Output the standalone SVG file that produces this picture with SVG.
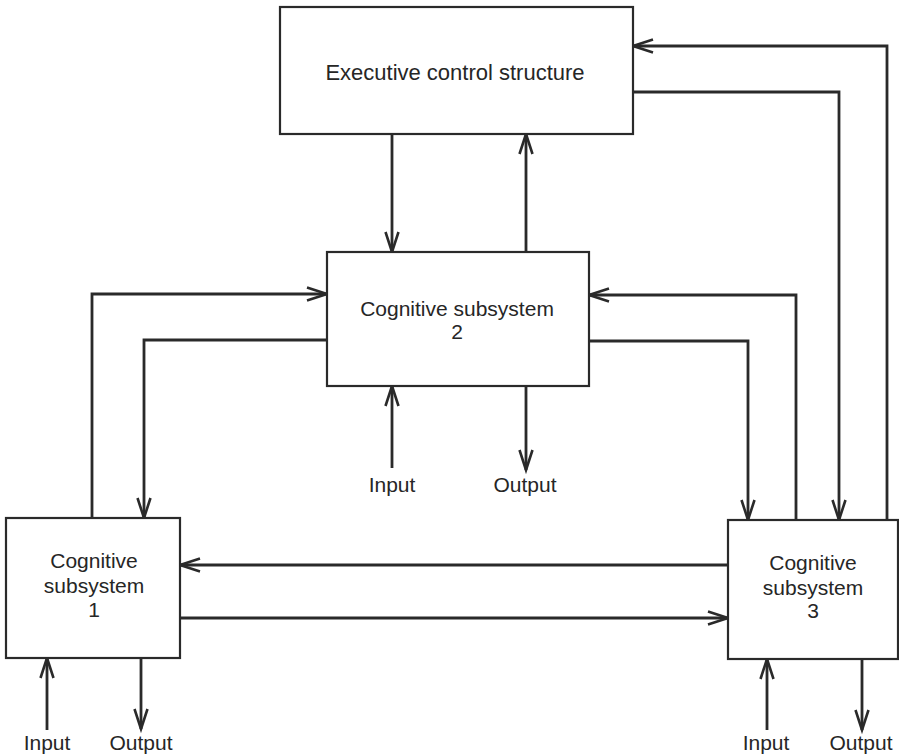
<svg xmlns="http://www.w3.org/2000/svg" width="899" height="756" viewBox="0 0 899 756">
  <defs>
    <marker id="arrow" markerUnits="userSpaceOnUse" markerWidth="30" markerHeight="20" viewBox="-24 -10 28 20" refX="0" refY="0" orient="auto">
      <path d="M-20,-6.5 L0,0 L-20,6.5" fill="none" stroke="#2a2a2a" stroke-width="2.6" stroke-linejoin="miter"/>
    </marker>
  </defs>
  <style>
    .box { fill: #ffffff; stroke: #2a2a2a; stroke-width: 2.2; }
    .label { font-family: "Liberation Sans", Arial, sans-serif; font-size: 21px; fill: #262626; text-anchor: middle; }
    .conn { fill: none; stroke: #2a2a2a; stroke-width: 2.8; marker-end: url(#arrow); }
  </style>
  <rect width="899" height="756" fill="#ffffff"/>

  <g id="connectors">
    <!-- executive <-> subsystem 2 -->
    <path class="conn" d="M392,134 V252"/>
    <path class="conn" d="M526,252 V134"/>
    <!-- executive <-> subsystem 3 -->
    <path class="conn" d="M633,92 H839 V520"/>
    <path class="conn" d="M887,520 V46 H633"/>
    <!-- subsystem 1 <-> subsystem 2 -->
    <path class="conn" d="M92,518 V294 H327"/>
    <path class="conn" d="M327,340 H144 V518"/>
    <!-- subsystem 3 <-> subsystem 2 -->
    <path class="conn" d="M796,520 V295 H589"/>
    <path class="conn" d="M589,341 H748 V520"/>
    <!-- subsystem 1 <-> subsystem 3 -->
    <path class="conn" d="M728,565 H180"/>
    <path class="conn" d="M180,618 H728"/>
    <!-- inputs and outputs -->
    <path class="conn" d="M392,468 V386"/>
    <path class="conn" d="M526,386 V470"/>
    <path class="conn" d="M47,730 V658"/>
    <path class="conn" d="M141,658 V729"/>
    <path class="conn" d="M767,730 V659"/>
    <path class="conn" d="M862,659 V730"/>
  </g>

  <g id="executive">
    <rect class="box" x="280" y="7" width="353" height="127"/>
    <text class="label" x="455" y="80" style="font-size:22px">Executive control structure</text>
  </g>

  <g id="subsystem2">
    <rect class="box" x="327" y="252" width="262" height="134"/>
    <text class="label" x="457" y="316">Cognitive subsystem</text>
    <text class="label" x="457" y="339">2</text>
  </g>

  <g id="subsystem1">
    <rect class="box" x="6" y="518" width="174" height="140"/>
    <text class="label" x="94" y="568">Cognitive</text>
    <text class="label" x="94" y="593">subsystem</text>
    <text class="label" x="94" y="617">1</text>
  </g>

  <g id="subsystem3">
    <rect class="box" x="728" y="520" width="170" height="139"/>
    <text class="label" x="813" y="570">Cognitive</text>
    <text class="label" x="813" y="595">subsystem</text>
    <text class="label" x="813" y="618">3</text>
  </g>

  <g id="io-labels">
    <text class="label" x="392" y="492">Input</text>
    <text class="label" x="525" y="492">Output</text>
    <text class="label" x="47" y="750">Input</text>
    <text class="label" x="141" y="750">Output</text>
    <text class="label" x="766" y="750">Input</text>
    <text class="label" x="861" y="750">Output</text>
  </g>
</svg>
